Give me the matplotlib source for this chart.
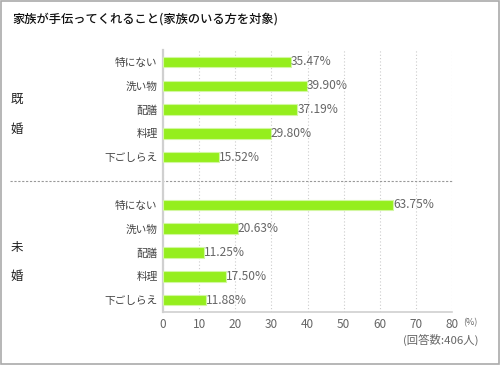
import numpy as np
import matplotlib.pyplot as plt
from matplotlib.patches import Rectangle

plt.rcParams['font.family'] = ['Noto Sans CJK JP', 'DejaVu Sans']

# --- data ---
items = ['特にない', '洗い物', '配膳', '料理', '下ごしらえ']
married = [35.47, 39.90, 37.19, 29.80, 15.52]
single = [63.75, 20.63, 11.25, 17.50, 11.88]
x_ticks = [0, 10, 20, 30, 40, 50, 60, 70, 80]

title = '家族が手伝ってくれること(家族のいる方を対象)'
note = '(回答数:406人)'

bar_color = '#95ee1d'
edge_color = '#d2f7a2'
text_gray = '#666666'

# rows 0-4 married, slot 5 = separator, rows 6-10 single
y_married = np.arange(5)
y_single = np.arange(5) + 6

fig = plt.figure(figsize=(5, 3.65), dpi=100)
ax = fig.add_axes([0.326, 0.145, 0.578, 0.718])

for ys, vals in [(y_married, married), (y_single, single)]:
    ax.barh(ys, vals, height=0.44, color=bar_color, edgecolor=edge_color, linewidth=0.8, zorder=3)
    for y, v in zip(ys, vals):
        ax.text(v, y, f'{v:.2f}%', va='center', ha='left', fontsize=8.6, color=text_gray, zorder=4)

ax.set_xlim(0, 80)
ax.set_ylim(10.5, -0.5)
ax.set_xticks(x_ticks)
ax.set_xticklabels([str(t) for t in x_ticks], fontsize=8.5, color=text_gray)
ax.set_yticks(list(y_married) + list(y_single))
ax.set_yticklabels(items + items, fontsize=7.7, color='#444444')
ax.tick_params(axis='both', length=0, pad=4)

ax.grid(axis='x', linestyle=(0, (1, 2)), color='#cccccc', linewidth=0.8, zorder=0)
for s in ['top', 'right']:
    ax.spines[s].set_visible(False)
ax.spines['left'].set_color('#d0d0d0')
ax.spines['left'].set_linewidth(1.6)
ax.spines['bottom'].set_color('#d0d0d0')
ax.spines['bottom'].set_linewidth(1.2)

# separator between the two groups
ax.axhline(5, xmin=-0.53, xmax=1.0, color='#999999', linestyle=(0, (2, 1.5)),
           linewidth=0.8, clip_on=False)

# group labels on the left
for ch, y in [('既', 1.58), ('婚', 2.83), ('未', 7.79), ('婚', 9.0)]:
    ax.text(-40.5, y, ch, fontsize=9, color='#222222', va='center', ha='center')

fig.text(12 / 500, 1 - 19 / 365, title, fontsize=8.8, color='#111111', va='center', ha='left',
         fontweight='medium')
fig.text(470 / 500, 1 - 323 / 365, '(%)', fontsize=6.5, color=text_gray, va='center', ha='center')
fig.text(478 / 500, 1 - 340 / 365, note, fontsize=8.2, color=text_gray, va='center', ha='right')

# outer frame
fig.patches.append(Rectangle((0.002, 0.003), 0.995, 0.994, transform=fig.transFigure,
                             fill=False, edgecolor='#aaaaaa', linewidth=1.2))

fig.savefig('out.png', dpi=100)
